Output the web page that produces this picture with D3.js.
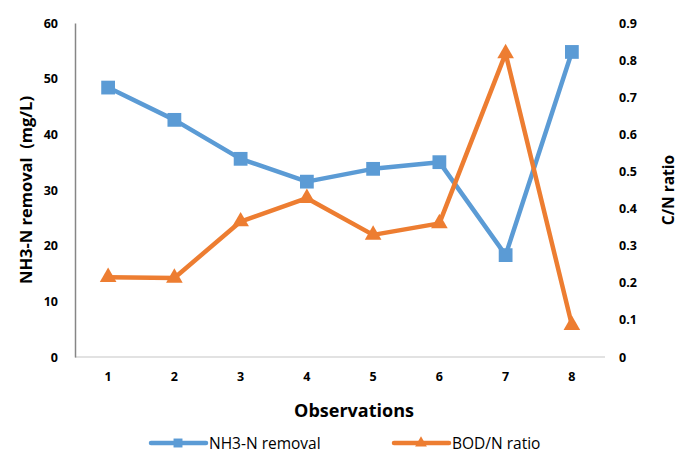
<!DOCTYPE html>
<html>
<head>
<meta charset="utf-8">
<script src="https://cdn.jsdelivr.net/npm/d3@7"></script>
<style>
  body { margin: 0; background: #fff; }
  svg text { font-family: "Open Sans", "Liberation Sans", sans-serif; }
</style>
</head>
<body>
<div id="chart"></div>
<script>
const observations = ["1", "2", "3", "4", "5", "6", "7", "8"];
const nh3Removal = [48.4, 42.6, 35.6, 31.5, 33.8, 35.0, 18.3, 54.8];
const bodNRatio = [0.215, 0.213, 0.365, 0.428, 0.329, 0.360, 0.818, 0.086];
const leftTicks = [0, 10, 20, 30, 40, 50, 60];
const rightTicks = [0, 0.1, 0.2, 0.3, 0.4, 0.5, 0.6, 0.7, 0.8, 0.9];

const W = 689, H = 455;
const margin = { top: 23, right: 84, bottom: 98, left: 75 };
const width = W - margin.left - margin.right;
const height = H - margin.top - margin.bottom;

const blue = "#5b9bd5", orange = "#ed7d31";

const svg = d3.select("#chart").append("svg")
  .attr("width", W).attr("height", H);
const g = svg.append("g")
  .attr("transform", `translate(${margin.left},${margin.top})`);

const x = d3.scaleBand().domain(observations).range([0, width]);
const yL = d3.scaleLinear().domain([0, 60]).range([height, 0]);
const yR = d3.scaleLinear().domain([0, 0.9]).range([height, 0]);
const cx = d => x(d) + x.bandwidth() / 2;

// bottom axis line
g.append("line")
  .attr("x1", 0).attr("x2", width)
  .attr("y1", height).attr("y2", height)
  .attr("stroke", "#d9d9d9").attr("stroke-width", 1.5);

// left axis
const axL = g.append("g")
  .call(d3.axisLeft(yL).tickValues(leftTicks).tickSize(0).tickPadding(17));
axL.select(".domain").attr("stroke", "#868686").attr("stroke-width", 1.5);
axL.selectAll("text").attr("font-size", 12.5).attr("font-weight", "bold").attr("fill", "#000");

// right axis
const axR = g.append("g").attr("transform", `translate(${width},0)`)
  .call(d3.axisRight(yR).tickValues(rightTicks).tickSize(0).tickPadding(14)
    .tickFormat(d => d === 0 ? "0" : d3.format(".1f")(d)));
axR.select(".domain").remove();
axR.selectAll("text").attr("font-size", 12.5).attr("font-weight", "bold").attr("fill", "#000");

// x tick labels
const axB = g.append("g").attr("transform", `translate(0,${height})`)
  .call(d3.axisBottom(x).tickSize(0).tickPadding(15));
axB.select(".domain").remove();
axB.selectAll("text").attr("font-size", 12.5).attr("font-weight", "bold").attr("fill", "#000");

// titles
svg.append("text")
  .attr("transform", `translate(32,190) rotate(-90)`)
  .attr("text-anchor", "middle")
  .attr("font-size", 16.5).attr("font-weight", "bold")
  .attr("xml:space", "preserve")
  .text("NH3-N removal  (mg/L)");
svg.append("text")
  .attr("transform", `translate(674,190) rotate(-90)`)
  .attr("text-anchor", "middle")
  .attr("font-size", 15.5).attr("font-weight", "bold")
  .text("C/N ratio");
svg.append("text")
  .attr("x", 354).attr("y", 417)
  .attr("text-anchor", "middle")
  .attr("font-size", 18).attr("font-weight", "bold")
  .text("Observations");

// lines
const lineL = d3.line().x((d, i) => cx(observations[i])).y(d => yL(d));
const lineR = d3.line().x((d, i) => cx(observations[i])).y(d => yR(d));

g.append("path").datum(nh3Removal)
  .attr("d", lineL).attr("fill", "none")
  .attr("stroke", blue).attr("stroke-width", 4.5).attr("stroke-linejoin", "round");
g.append("path").datum(bodNRatio)
  .attr("d", lineR).attr("fill", "none")
  .attr("stroke", orange).attr("stroke-width", 4.5).attr("stroke-linejoin", "round");

const sq = d3.symbol().type(d3.symbolSquare).size(190);
const tri = d3.symbol().type(d3.symbolTriangle).size(120);

g.selectAll(".sq").data(nh3Removal).join("path")
  .attr("d", sq)
  .attr("transform", (d, i) => `translate(${cx(observations[i])},${yL(d)})`)
  .attr("fill", blue);
g.selectAll(".tri").data(bodNRatio).join("path")
  .attr("d", tri)
  .attr("transform", (d, i) => `translate(${cx(observations[i])},${yR(d)})`)
  .attr("fill", orange);

// legend
const legSq = d3.symbol().type(d3.symbolSquare).size(80);
const legTri = d3.symbol().type(d3.symbolTriangle).size(60);
const legend = [
  { name: "NH3-N removal", color: blue, sym: legSq, x: 151 },
  { name: "BOD/N ratio", color: orange, sym: legTri, x: 394 }
];
const lg = svg.append("g").attr("transform", "translate(0,443)");
legend.forEach(l => {
  lg.append("line").attr("x1", l.x).attr("x2", l.x + 55)
    .attr("y1", 0).attr("y2", 0)
    .attr("stroke", l.color).attr("stroke-width", 4.5).attr("stroke-linecap", "round");
  lg.append("path").attr("d", l.sym)
    .attr("transform", `translate(${l.x + 27},0)`).attr("fill", l.color);
  lg.append("text").attr("x", l.x + 58).attr("y", 5.5)
    .attr("font-size", 15.5).attr("fill", "#000").text(l.name);
});
</script>
</body>
</html>
